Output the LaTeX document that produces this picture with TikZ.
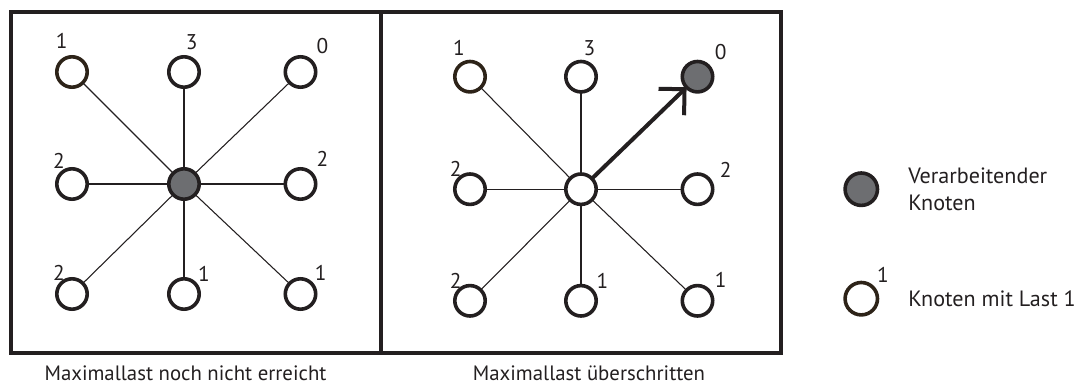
\documentclass[tikz,border=0pt]{standalone}
\usepackage{fontspec}
\setmainfont{PT Sans}
\usetikzlibrary{arrows.meta}
\definecolor{ink}{HTML}{231F20}
\definecolor{brownink}{HTML}{2D2318}
\definecolor{procfill}{HTML}{6D6E71}

\begin{document}
\begin{tikzpicture}[x=0.75pt,y=-0.75pt,
  knot/.style={circle, draw=ink, line width=2.7pt, minimum size=22.8pt,
    inner sep=0pt, outer sep=0pt, fill=white},
  active/.style={knot, fill=procfill},
  loaded/.style={knot, draw=brownink},
  link/.style={draw=ink, line width=0.8pt},
  load/.style={font=\fontsize{16}{19}\selectfont, inner sep=0pt, text=ink},
  caption/.style={font=\fontsize{15.6}{18}\selectfont, inner sep=0pt,
    anchor=base, text=ink},
  legendtext/.style={font=\fontsize{16.6}{20.2}\selectfont, inner sep=0pt,
    text=ink, align=left},
  frame/.style={draw=ink, line width=3pt},
  move/.style={draw=ink, line width=3pt,
    -{Straight Barb[length=13.8pt,width=27.6pt]}},
]
\useasboundingbox (0,0) rectangle (1079,385);

% panel frame with divider
\draw[frame] (11,11.7) rectangle (781,353);
\draw[frame, line width=2.7pt] (381,11.7) -- (381,353);

% ---- left panel: load still below the maximum ----
\node[loaded] (a1) at (72,72) {};
\node[knot]   (a2) at (184,72) {};
\node[knot]   (a3) at (300.5,72) {};
\node[knot]   (a4) at (72,184) {};
\node[active] (a0) at (184,184) {};
\node[knot]   (a5) at (300.5,184) {};
\node[knot]   (a6) at (72,294) {};
\node[knot]   (a7) at (184,294) {};
\node[knot]   (a8) at (300.5,294) {};
\foreach \n in {a1,a2,a3,a4,a5,a6,a7,a8}
  \draw[link] (a0) -- (\n);

\node[load] at (61.7,41)   {1};
\node[load] at (191.7,42)  {3};
\node[load] at (322.5,45.8){0};
\node[load] at (59,160.8)  {2};
\node[load] at (322.5,159) {2};
\node[load] at (59,272.5)  {2};
\node[load] at (204,274)   {1};
\node[load] at (320.8,272.5){1};

% ---- right panel: maximum exceeded, work moves on ----
\node[loaded] (b1) at (470,76.7) {};
\node[knot]   (b2) at (581,76.7) {};
\node[active] (b3) at (697.5,76.7) {};
\node[knot]   (b4) at (470,189.2) {};
\node[knot]   (b0) at (581,189.2) {};
\node[knot]   (b5) at (697.5,189.2) {};
\node[knot]   (b6) at (470,300.8) {};
\node[knot]   (b7) at (581,300.8) {};
\node[knot]   (b8) at (697.5,300.8) {};
\foreach \n in {b1,b2,b4,b5,b6,b7,b8}
  \draw[link] (b0) -- (\n);
\draw[move] (b0) -- (b3);

\node[load] at (459,47.5)   {1};
\node[load] at (589.5,48.3) {3};
\node[load] at (720.8,51.7) {0};
\node[load] at (455.8,169)  {2};
\node[load] at (725.8,170)  {2};
\node[load] at (455.8,281)  {2};
\node[load] at (602.5,281)  {1};
\node[load] at (720.8,280)  {1};

% captions
\node[caption] at (185.5,380.5) {Maximallast noch nicht erreicht};
\node[caption] at (589,380.5)   {Maximallast überschritten};

% legend
\node[active, minimum size=24.3pt] (l1) at (861.3,189.2) {};
\node[loaded, minimum size=24.3pt] (l2) at (861.3,298.7) {};
\node[legendtext, anchor=west] at (908,189.5) {Verarbeitender\\Knoten};
\node[load] at (883,275) {1};
\node[legendtext, anchor=base west] at (908,306.7) {Knoten mit Last 1};
\end{tikzpicture}
\end{document}
